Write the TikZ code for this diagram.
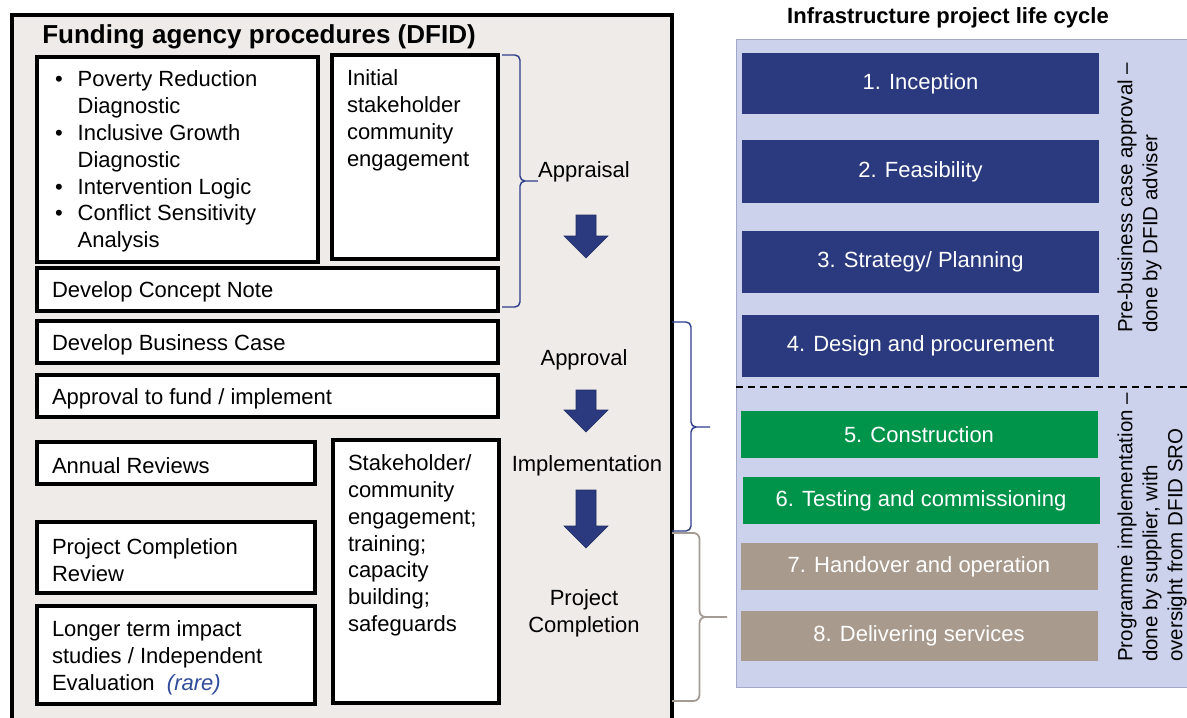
\documentclass[tikz,border=0pt]{standalone}
\usepackage{fontspec}
\setmainfont{Liberation Sans}
\usetikzlibrary{calc}
\definecolor{framegray}{HTML}{EEEBE8}
\definecolor{panelblue}{HTML}{CDD2EC}
\definecolor{panelline}{HTML}{A3A8C8}
\definecolor{stageblue}{HTML}{2B3A7E}
\definecolor{stagegreen}{HTML}{00934A}
\definecolor{stagegray}{HTML}{A89B8D}
\definecolor{braceblue}{HTML}{2E3D8A}
\definecolor{bracegray}{HTML}{A39C94}
\definecolor{rareblue}{HTML}{2F4B9A}
\newcommand\cellbox[4]{\parbox[c][#2pt][#3]{#1pt}{\raggedright\vspace*{5pt}#4}}
% brace from #2 to #3 with its tip at #4
\newcommand\vbrace[4]{\draw[#1] let \p1=(#2), \p2=(#3), \p3=(#4) in
  (\p1) -- (\x1/2+\x3/2,\y1) -- (\x1/2+\x3/2,\y3) -- (\p3)
  (\p3) -- (\x1/2+\x3/2,\y3) -- (\x1/2+\x3/2,\y2) -- (\p2);}

\tikzset{
  txt/.style={font=\fontsize{22pt}{26.8pt}\selectfont},
  cell/.style={txt, draw=black, line width=3.3pt, fill=white, anchor=north west,
    inner xsep=15pt, inner ysep=0pt, outer sep=0pt},
  stage/.style={txt, text=white, minimum width=357pt, inner sep=0pt, outer sep=0pt},
  note/.style={font=\fontsize{20.5pt}{25pt}\selectfont, align=left, inner sep=0pt, rotate=90, anchor=west},
  phase/.style={txt, align=center, inner sep=0pt},
  blockarrow/.style={fill=stageblue, draw=stageblue!80!black, line width=0.6pt, line join=miter},
  bluebrace/.style={draw=braceblue, line width=1.4pt, rounded corners=5pt},
  graybrace/.style={draw=bracegray, line width=1.8pt, rounded corners=6pt}
}

\begin{document}
\begin{tikzpicture}[x=1pt,y=-1pt]
  \useasboundingbox (0,0) rectangle (1187,718);

  %%%%% funding agency side %%%%%
  \draw[fill=framegray, line width=3.3pt] (12,15) rectangle (672,740);
  \node[font=\bfseries\fontsize{26pt}{31pt}\selectfont] (ftitle) at (259,37) {Funding agency procedures (DFID)};

  \node[cell] (diag) at (37,57) {\cellbox{251}{205}{c}{%
    \begin{tabular}{@{\hspace{3pt}}l@{\hspace{15pt}}l@{}}
      \textbullet & Poverty Reduction\\
                  & Diagnostic\\
      \textbullet & Inclusive Growth\\
                  & Diagnostic\\
      \textbullet & Intervention Logic\\
      \textbullet & Conflict Sensitivity\\
                  & Analysis
    \end{tabular}}};
  \node[cell] (initial) at (332,55) {\cellbox{136}{204}{t}{\vspace*{7pt}\strut Initial\\stakeholder\\community\\engagement}};
  \node[cell] (concept) at (37,268) {\cellbox{431}{43}{c}{Develop Concept Note}};
  \node[cell] (busc) at (37,321) {\cellbox{431}{42}{c}{Develop Business Case}};
  \node[cell] (fund) at (37,375) {\cellbox{431}{42}{c}{Approval to fund / implement}};
  \node[cell] (annual) at (37,442) {\cellbox{248}{42}{c}{Annual Reviews}};
  \node[cell] (pcr) at (37,522) {\cellbox{248}{71}{c}{Project Completion\\Review}};
  \node[cell] (longer) at (37,606) {\cellbox{248}{98}{c}{Longer term impact\\studies / Independent\\Evaluation~~{\color{rareblue}\itshape(rare)}}};
  \node[cell] (engage) at (333,440) {\cellbox{136}{263}{t}{\vspace*{7pt}\strut Stakeholder/\\community\\engagement;\\training;\\capacity\\building;\\safeguards}};

  % phases and arrows
  \node[phase] (appraisal) at (584,172) {Appraisal};
  \node[phase] (approval) at (584,360) {Approval};
  \node[phase] (implement) at (587,466) {Implementation};
  \node[phase] (complete) at (584,613) {Project\\Completion};

  \foreach \yt/\yb in {215/258, 390/432, 490/548}
    \draw[blockarrow] (576,\yt) -- (596,\yt) -- (596,\yb-22) -- (608,\yb-22)
      -- (586,\yb) -- (564,\yb-22) -- (576,\yb-22) -- cycle;

  % braces
  \coordinate (apTop) at (502,55);
  \coordinate (apBot) at (502,307);
  \coordinate (imTop) at (672,322);
  \coordinate (imBot) at (672,531);
  \coordinate (imTip) at (710,427);
  \coordinate (coTop) at (672,533);
  \coordinate (coBot) at (672,701);
  \coordinate (coTip) at (727,617);
  \vbrace{bluebrace}{apTop}{apBot}{appraisal.west |- 0,181}
  \vbrace{bluebrace}{imTop}{imBot}{imTip}
  \vbrace{graybrace}{coTop}{coBot}{coTip}

  %%%%% life cycle side %%%%%
  \node[font=\bfseries\fontsize{22pt}{26pt}\selectfont] (ltitle) at (948,18) {Infrastructure project life cycle};
  \draw[fill=panelblue, draw=panelline, line width=1pt] (736,39) rectangle (1200,687);

  \node[stage, fill=stageblue, minimum height=61pt] (s1) at (920.5,83.5) {1. Inception};
  \node[stage, fill=stageblue, minimum height=63pt] (s2) at (920.5,171.5) {2. Feasibility};
  \node[stage, fill=stageblue, minimum height=62pt] (s3) at (920.5,262) {3. Strategy/ Planning};
  \node[stage, fill=stageblue, minimum height=62pt] (s4) at (920.5,346) {4. Design and procurement};

  \draw[line width=1.5pt, dash pattern=on 7pt off 5pt] (736,387) -- (1187,387);

  \node[stage, fill=stagegreen, minimum height=47pt] (s5) at (919,434.5) {5. Construction};
  \node[stage, fill=stagegreen, minimum height=47pt] (s6) at (921,500.5) {6. Testing and commissioning};
  \node[stage, fill=stagegray, minimum height=47pt] (s7) at (919,566.5) {7. Handover and operation};
  \node[stage, fill=stagegray, minimum height=50pt] (s8) at (919,636) {8. Delivering services};

  \node[note] (prenote) at (1139.5,333) {Pre-business case approval –\\done by DFID adviser};
  \node[note] (prognote) at (1152,662) {Programme implementation –\\done by supplier, with\\oversight from DFID SRO};
\end{tikzpicture}
\end{document}
